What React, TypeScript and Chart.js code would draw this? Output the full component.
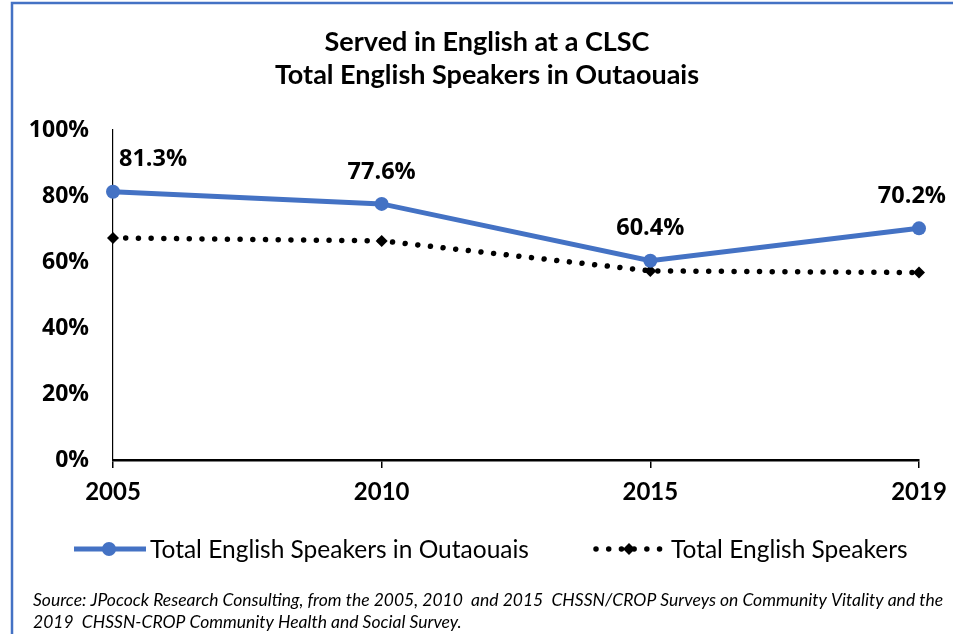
import React, { useEffect, useRef } from "react";
import { Chart, registerables } from "chart.js";

Chart.register(...registerables);

const years = ["2005", "2010", "2015", "2019"];
const outaouais = [81.3, 77.6, 60.4, 70.2];
const totalEnglish = [67.3, 66.4, 57.3, 56.8];
const titleLines = ["Served in English at a CLSC", "Total English Speakers in Outaouais"];
const seriesNames = ["Total English Speakers in Outaouais", "Total English Speakers"];
const sourceLines = [
  "Source: JPocock Research Consulting, from the 2005, 2010  and 2015  CHSSN/CROP Surveys on Community Vitality and the",
  "2019  CHSSN-CROP Community Health and Social Survey.",
];

const BLUE = "#4472C4";
const W = 953;
const H = 634;

const decor = {
  id: "decor",
  beforeDraw(chart: any) {
    const ctx = chart.ctx;
    ctx.save();
    ctx.fillStyle = "#fff";
    ctx.fillRect(0, 0, chart.width, chart.height);
    ctx.strokeStyle = BLUE;
    ctx.lineWidth = 2.5;
    ctx.beginPath();
    ctx.moveTo(12, chart.height + 5);
    ctx.lineTo(12, 3);
    ctx.lineTo(chart.width + 5, 3);
    ctx.stroke();
    ctx.fillStyle = "#000";
    ctx.font = "bold 27px Lato";
    ctx.textAlign = "center";
    ctx.textBaseline = "middle";
    titleLines.forEach((t, i) => ctx.fillText(t, 487, 42 + i * 33));
    ctx.restore();
  },
  afterDatasetsDraw(chart: any) {
    const ctx = chart.ctx;
    const area = chart.chartArea;
    ctx.save();
    // data labels
    const meta = chart.getDatasetMeta(0);
    ctx.font = "bold 23.5px 'Open Sans'";
    ctx.fillStyle = "#000";
    ctx.textBaseline = "middle";
    ctx.textAlign = "center";
    meta.data.forEach((pt: any, i: number) => {
      const txt = outaouais[i].toFixed(1) + "%";
      const w = ctx.measureText(txt).width;
      let cx = pt.x;
      cx = Math.max(cx, area.left + 6 + w / 2);
      cx = Math.min(cx, chart.width - 7 - w / 2);
      ctx.fillText(txt, cx, pt.y - 32);
    });

    // legend
    const ly = 549;
    ctx.strokeStyle = BLUE;
    ctx.lineWidth = 5;
    ctx.lineCap = "butt";
    ctx.beginPath();
    ctx.moveTo(74, ly);
    ctx.lineTo(146, ly);
    ctx.stroke();
    ctx.fillStyle = BLUE;
    ctx.beginPath();
    ctx.arc(109, ly, 7, 0, Math.PI * 2);
    ctx.fill();

    ctx.strokeStyle = "#000";
    ctx.lineWidth = 5.5;
    ctx.lineCap = "round";
    ctx.setLineDash([0.01, 12.7]);
    ctx.beginPath();
    ctx.moveTo(596, ly);
    ctx.lineTo(662, ly);
    ctx.stroke();
    ctx.setLineDash([]);
    ctx.fillStyle = "#000";
    ctx.beginPath();
    ctx.moveTo(629, ly - 6);
    ctx.lineTo(635, ly);
    ctx.lineTo(629, ly + 6);
    ctx.lineTo(623, ly);
    ctx.closePath();
    ctx.fill();

    ctx.font = "24.5px Lato";
    ctx.fillStyle = "#000";
    ctx.textAlign = "left";
    ctx.fillText(seriesNames[0], 150, ly + 1);
    ctx.fillText(seriesNames[1], 671, ly + 1);

    // source
    ctx.font = "italic 17.5px Lato";
    sourceLines.forEach((t, i) => ctx.fillText(t, 33, 600 + i * 22));
    ctx.restore();
  },
};

export default function App() {
  const ref = useRef<HTMLCanvasElement>(null);
  useEffect(() => {
    if (!ref.current) return;
    const chart = new Chart(ref.current, {
      type: "line",
      data: {
        labels: years,
        datasets: [
          {
            label: seriesNames[0],
            data: outaouais,
            borderColor: BLUE,
            backgroundColor: BLUE,
            borderWidth: 5,
            pointRadius: 7,
            pointHoverRadius: 7,
            pointBackgroundColor: BLUE,
            pointBorderWidth: 0,
            tension: 0,
          },
          {
            label: seriesNames[1],
            data: totalEnglish,
            borderColor: "#000",
            backgroundColor: "#000",
            borderWidth: 5.5,
            borderDash: [0.01, 12.7],
            borderCapStyle: "round",
            pointStyle: "rectRot",
            pointRadius: 6,
            pointBackgroundColor: "#000",
            pointBorderWidth: 0,
            tension: 0,
          },
        ],
      },
      options: {
        responsive: false,
        animation: false,
        devicePixelRatio: 1,
        layout: { padding: { left: 13, right: 34, top: 130, bottom: 114 } },
        plugins: { legend: { display: false }, title: { display: false }, tooltip: { enabled: false } },
        scales: {
          x: {
            offset: false,
            grid: { display: true, drawOnChartArea: false, drawTicks: true, tickLength: 8, color: "#000", lineWidth: 1.5 },
            border: { display: true, color: "#000", width: 2.5 },
            ticks: { color: "#000", font: { family: "Lato", weight: "bold", size: 24 }, padding: 10, maxRotation: 0 },
            afterFit: (s: any) => {
              s.height = 60;
              s.paddingLeft = 0;
              s.paddingRight = 0;
            },
          },
          y: {
            min: 0,
            max: 100,
            grid: { display: false, drawTicks: false },
            border: { display: true, color: "#000", width: 1.2 },
            ticks: {
              stepSize: 20,
              color: "#000",
              padding: 24,
              font: { family: "Open Sans", weight: "bold", size: 23 },
              callback: (v: any) => v + "%",
            },
            afterFit: (s: any) => {
              s.width = 100;
              s.paddingTop = 0;
              s.paddingBottom = 0;
            },
          },
        },
      },
      plugins: [decor],
    });
    return () => chart.destroy();
  }, []);
  return (
    <div style={{ position: "fixed", left: 0, top: 0, width: W, height: H, background: "#fff" }}>
      <canvas ref={ref} width={W} height={H} style={{ width: W, height: H, display: "block" }} />
    </div>
  );
}
